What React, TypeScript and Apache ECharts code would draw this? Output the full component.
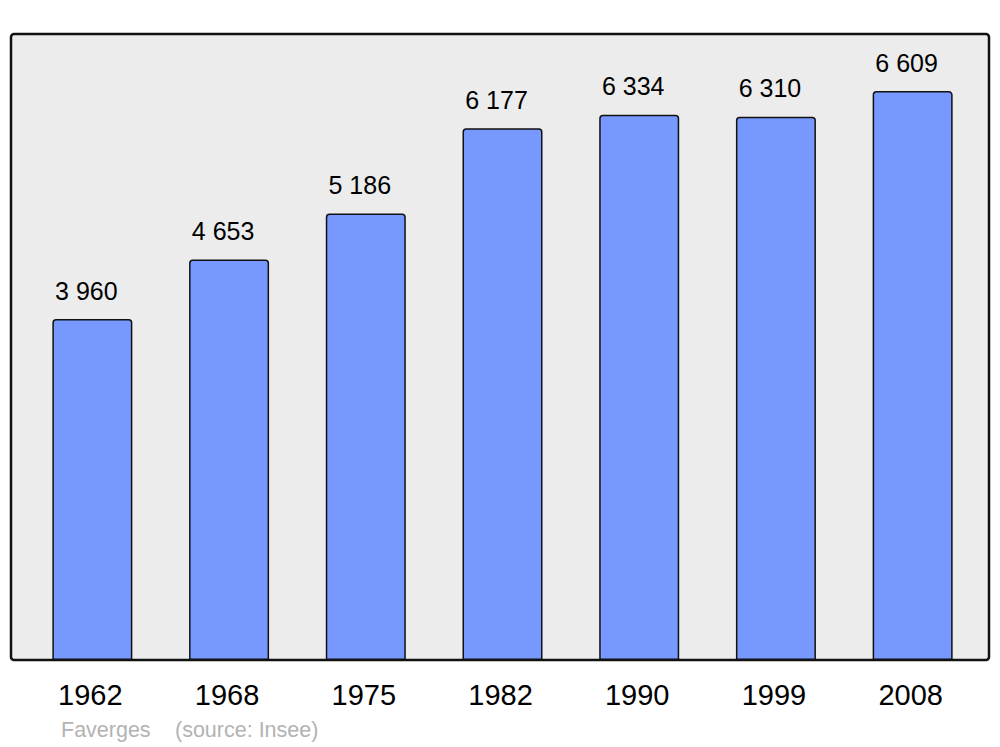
import React, { useEffect, useRef } from "react";
import * as echarts from "echarts";

const years = ["1962", "1968", "1975", "1982", "1990", "1999", "2008"];
const population = [3960, 4653, 5186, 6177, 6334, 6310, 6609];
const town = "Faverges";
const source = "(source: Insee)";

const fmt = (v: number) => {
  const s = String(v);
  return s.length > 3 ? s.slice(0, s.length - 3) + " " + s.slice(-3) : s;
};

export default function App() {
  const ref = useRef<HTMLDivElement>(null);
  useEffect(() => {
    const chart = echarts.init(ref.current!, null, { renderer: "svg" });
    chart.setOption({
      animation: false,
      backgroundColor: "#ffffff",
      textStyle: { fontFamily: "Liberation Sans, Arial, sans-serif" },
      grid: { left: 24, right: 19, top: 34, bottom: 87, containLabel: false },
      graphic: [
        {
          type: "rect",
          z: -10,
          silent: true,
          shape: { x: 11, y: 34, width: 978, height: 626, r: 3 },
          style: { fill: "#ececec", stroke: "#111111", lineWidth: 2.5 },
        },
        {
          type: "text",
          left: 61,
          top: 719,
          style: {
            text: town,
            fill: "#b3b3b3",
            font: "21.5px 'Liberation Sans', Arial, sans-serif",
          },
        },
        {
          type: "text",
          left: 175,
          top: 719,
          style: {
            text: source,
            fill: "#b3b3b3",
            font: "21.5px 'Liberation Sans', Arial, sans-serif",
          },
        },
      ],
      xAxis: {
        type: "category",
        data: years,
        axisLine: { show: false },
        axisTick: { show: false },
        axisLabel: {
          color: "#000",
          fontSize: 29,
          margin: 20,
          padding: [0, 4, 0, 0],
          fontFamily: "Liberation Sans, Arial, sans-serif",
        },
      },
      yAxis: {
        type: "value",
        min: 0,
        max: 7272,
        show: false,
        splitLine: { show: false },
      },
      series: [
        {
          type: "bar",
          data: population,
          barWidth: 80,
          itemStyle: {
            color: "#7799ff",
            borderColor: "#111111",
            borderWidth: 1.5,
            borderRadius: [3, 3, 0, 0],
          },
          label: {
            show: true,
            position: "top",
            distance: 16,
            offset: [-6, 0],
            color: "#000",
            fontSize: 25,
            fontFamily: "Liberation Sans, Arial, sans-serif",
            formatter: (p: any) => fmt(p.value),
          },
        },
      ],
    });
    return () => chart.dispose();
  }, []);
  return (
    <div
      ref={ref}
      style={{ position: "fixed", left: 0, top: 0, width: 1000, height: 747 }}
    />
  );
}
